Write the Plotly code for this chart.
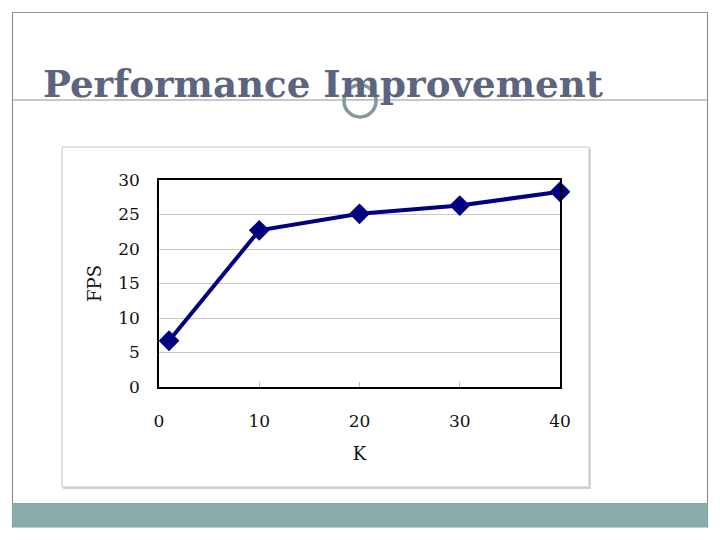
import plotly.graph_objects as go

# Data
k_values = [1, 10, 20, 30, 40]
fps_values = [6.7, 22.7, 25.1, 26.3, 28.3]
x_ticks = [0, 10, 20, 30, 40]
y_ticks = [0, 5, 10, 15, 20, 25, 30]
title_text = "Performance Improvement"

W, H = 720, 540

def px(x):
    return x / W

def py(y):
    return 1 - y / H

fig = go.Figure()
fig.add_trace(go.Scatter(
    x=k_values, y=fps_values, mode="lines+markers",
    line=dict(color="#000080", width=4),
    marker=dict(symbol="diamond", size=16, color="#000080"),
    cliponaxis=False,
    showlegend=False, hoverinfo="skip",
))

tick_font = dict(family="DejaVu Serif", size=17, color="#111111")

fig.update_layout(
    width=W, height=H,
    margin=dict(l=0, r=0, t=0, b=0, pad=0, autoexpand=False),
    paper_bgcolor="white", plot_bgcolor="white",
    xaxis=dict(
        domain=[px(159), px(560)], range=[0, 40],
        tickvals=x_ticks, ticktext=[str(v) for v in x_ticks],
        showgrid=False, zeroline=False, automargin=False,
        showline=True, linecolor="black", linewidth=1.5, mirror=True,
        ticks="inside", ticklen=5, tickcolor="#bbbbbb", tickwidth=1,
        tickfont=tick_font, ticklabelstandoff=18,
        title=dict(text="K", font=dict(family="DejaVu Serif", size=18, color="#111111"), standoff=17),
    ),
    yaxis=dict(
        domain=[py(387), py(180)], range=[0, 30],
        tickvals=y_ticks, ticktext=[str(v) for v in y_ticks],
        showgrid=True, gridcolor="#c8c8c8", gridwidth=1, zeroline=False, automargin=False,
        showline=True, linecolor="black", linewidth=1.5, mirror=True,
        ticks="", tickfont=tick_font, ticklabelstandoff=14,
        title=dict(text="FPS", font=dict(family="DejaVu Serif", size=18, color="#111111"), standoff=12),
    ),
)

shapes = []
# chart frame shadow + frame
shapes.append(dict(type="rect", xref="paper", yref="paper",
                   x0=px(63), x1=px(591), y0=py(489), y1=py(149),
                   line=dict(width=0), fillcolor="#d4d4d4", layer="below"))
shapes.append(dict(type="rect", xref="paper", yref="paper",
                   x0=px(62), x1=px(589), y0=py(487), y1=py(147),
                   line=dict(color="#c4c4c4", width=1), fillcolor="white", layer="below"))
# slide border
shapes.append(dict(type="rect", xref="paper", yref="paper",
                   x0=px(12.5), x1=px(707.5), y0=py(527), y1=py(12.5),
                   line=dict(color="#8a9696", width=1.2), fillcolor="rgba(0,0,0,0)", layer="below"))
# title rule
shapes.append(dict(type="line", xref="paper", yref="paper",
                   x0=px(12.5), x1=px(707.5), y0=py(100), y1=py(100),
                   line=dict(color="#8a9696", width=1.2), layer="below"))
# bottom bar
shapes.append(dict(type="rect", xref="paper", yref="paper",
                   x0=px(12.5), x1=px(707.5), y0=py(527), y1=py(503),
                   line=dict(width=0), fillcolor="#8aabab", layer="below"))
# circle ornament
shapes.append(dict(type="circle", xref="paper", yref="paper",
                   x0=px(344), x1=px(376), y0=py(117), y1=py(85),
                   line=dict(color="#7f9a9a", width=3.5), fillcolor="rgba(255,255,255,0)", layer="above"))
fig.update_layout(shapes=shapes)

fig.add_annotation(
    text="<b>" + title_text + "</b>", xref="paper", yref="paper",
    x=px(41), y=py(108), xanchor="left", yanchor="bottom",
    showarrow=False, font=dict(family="DejaVu Serif", size=37.2, color="#5d6480"),
)

fig.write_html("out.html")
